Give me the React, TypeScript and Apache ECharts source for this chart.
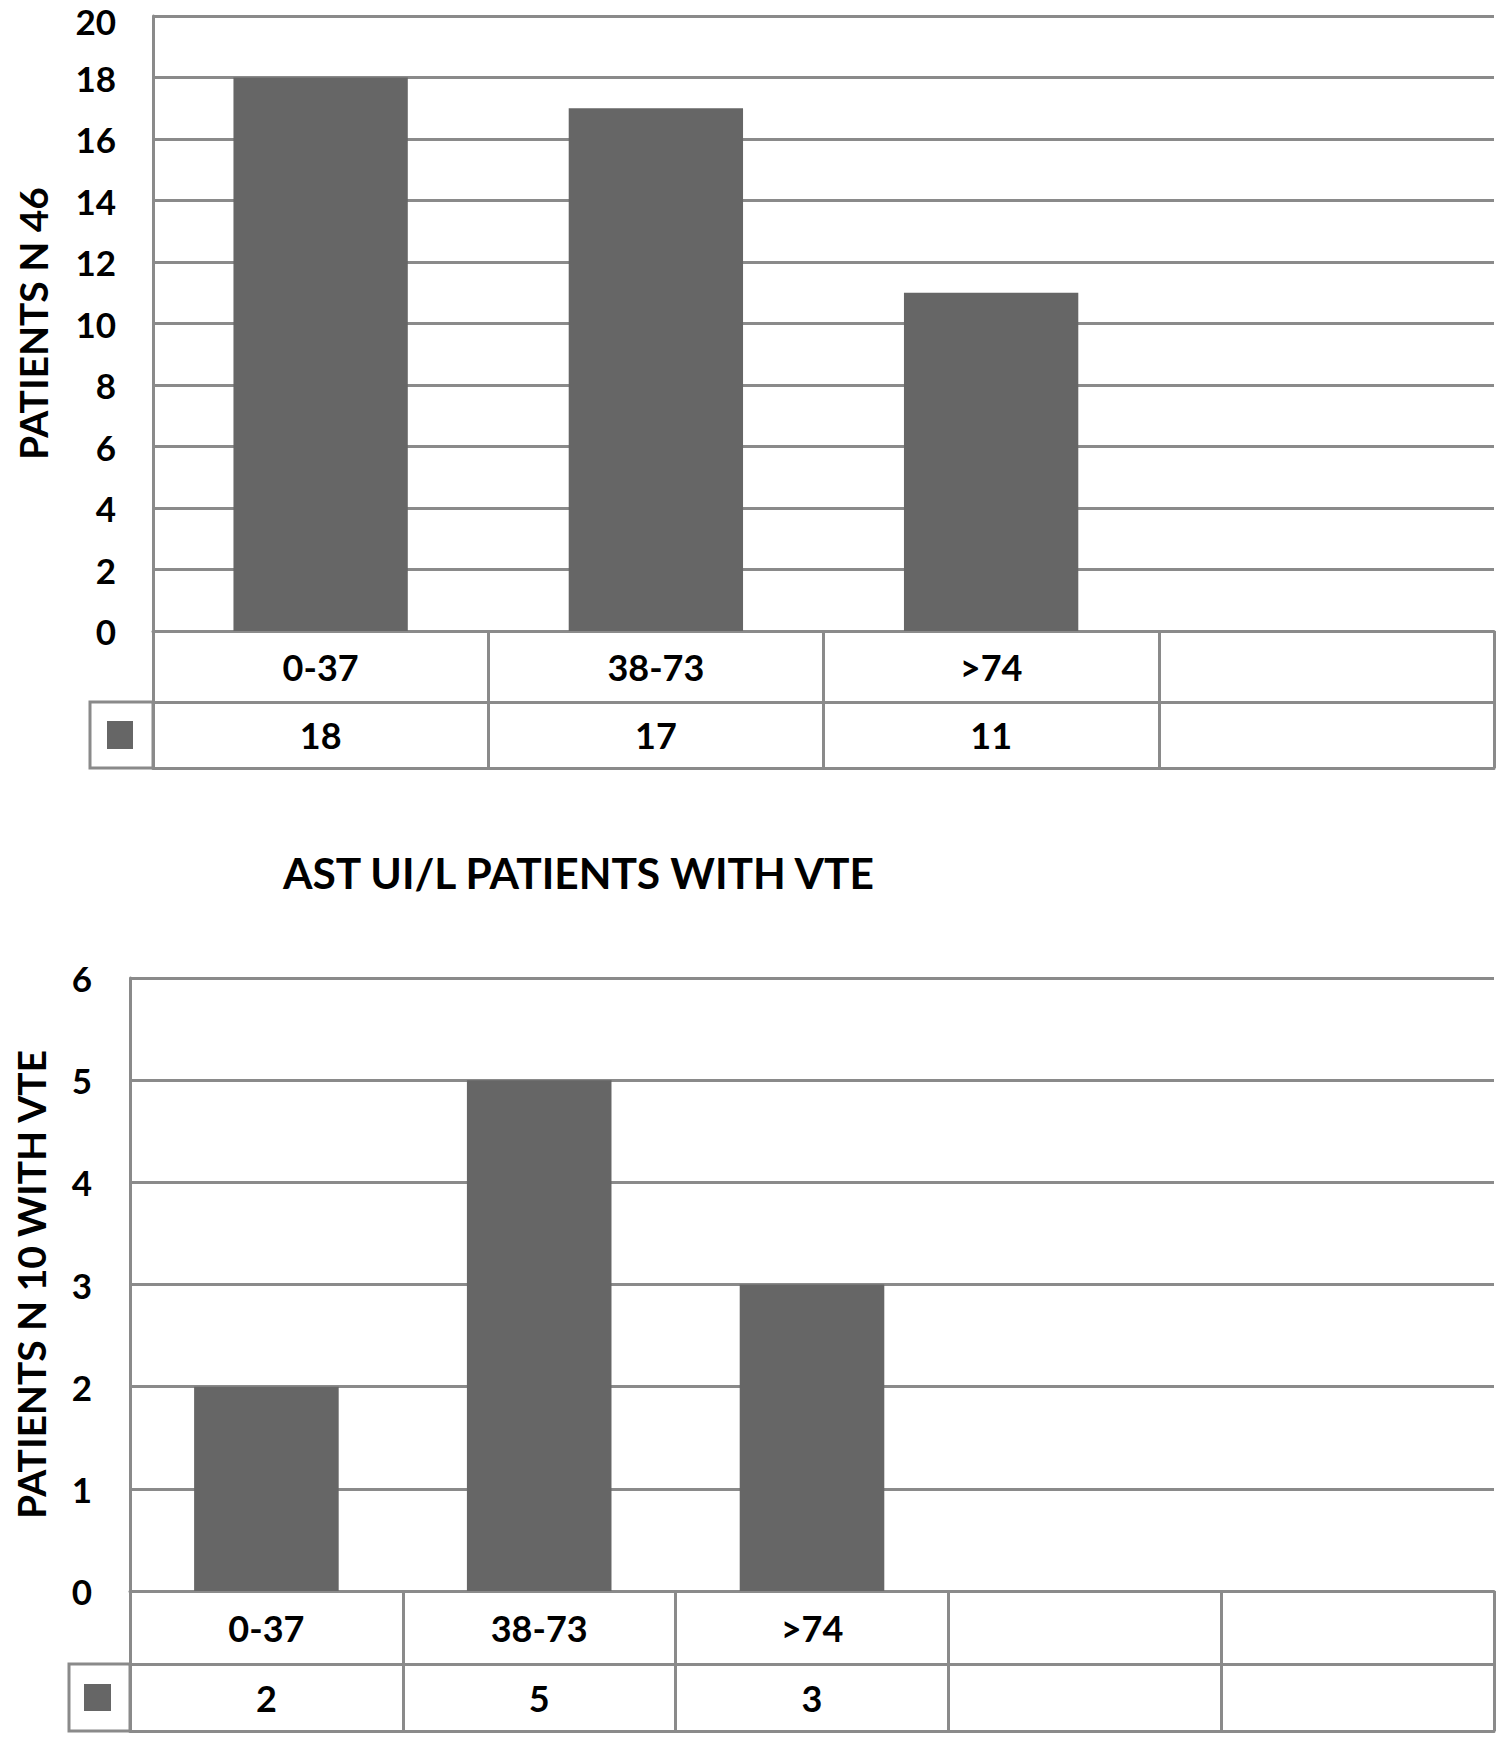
import React, { useEffect, useRef } from 'react';
import * as echarts from 'echarts';

// ---- data ----
const topCategories = ['0-37', '38-73', '>74', ''];
const topValues = [18, 17, 11];
const topSeriesName = 'PATIENTS N 46';
const topYMin = 0;
const topYMax = 20;
const topYInterval = 2;

const bottomTitle = 'AST UI/L PATIENTS WITH VTE';
const bottomCategories = ['0-37', '38-73', '>74', '', ''];
const bottomValues = [2, 5, 3];
const bottomSeriesName = 'PATIENTS N 10 WITH VTE';
const bottomYMin = 0;
const bottomYMax = 6;
const bottomYInterval = 1;

// ---- styles ----
const FONT = 'Lato';
const LINE = '#8a8a8a';
const BAR = '#666666';
const LW = 3;

const lineStyle = { color: LINE, width: LW };
const labelFont = { fontFamily: FONT, fontWeight: 'bold' as const, color: '#000' };

function tableAxes(gridIndex: number, cats: string[], vals: number[], row1: number, row2: number) {
  return [
    {
      gridIndex,
      type: 'category',
      position: 'bottom',
      data: cats,
      axisLine: { show: true, lineStyle },
      axisTick: { show: true, interval: 0, length: row1 + row2, lineStyle },
      axisLabel: { interval: 0, margin: (row1 - 36) / 2, fontSize: 36, lineHeight: 36, ...labelFont },
      splitLine: { show: false },
    },
    {
      gridIndex,
      type: 'category',
      position: 'bottom',
      offset: row1,
      data: cats,
      axisLine: { show: true, lineStyle },
      axisTick: { show: false },
      axisLabel: {
        interval: 0,
        margin: (row2 - 36) / 2,
        fontSize: 36,
        lineHeight: 36,
        ...labelFont,
        formatter: (_v: string, i: number) => (vals[i] === undefined ? '' : String(vals[i])),
      },
      splitLine: { show: false },
    },
    {
      gridIndex,
      type: 'category',
      position: 'bottom',
      offset: row1 + row2,
      data: cats,
      axisLine: { show: true, lineStyle },
      axisTick: { show: false },
      axisLabel: { show: false },
      splitLine: { show: false },
    },
  ];
}

function valueAxis(gridIndex: number, min: number, max: number, interval: number, name: string, margin: number, nameGap: number) {
  return {
    gridIndex,
    type: 'value',
    min,
    max,
    interval,
    name,
    nameLocation: 'middle',
    nameGap,
    nameTextStyle: { fontSize: 39, lineHeight: 40, ...labelFont },
    axisLine: { show: true, lineStyle },
    axisTick: { show: false },
    axisLabel: {
      margin,
      fontSize: 35,
      lineHeight: 26,
      ...labelFont,
      formatter: (v: number) => (v === max && gridIndex === 0 ? `{top|${v}}` : String(v)),
      rich: {
        top: { fontSize: 35, lineHeight: 26, padding: [10, 0, 0, 0], ...labelFont },
      },
    },
    splitLine: { show: true, lineStyle },
  };
}

export default function App() {
  const ref = useRef<HTMLDivElement>(null);
  useEffect(() => {
    if (!ref.current) return;
    const chart = echarts.init(ref.current, undefined, { renderer: 'svg' });
    const option: any = {
      animation: false,
      backgroundColor: '#ffffff',
      title: {
        text: bottomTitle,
        left: 283,
        top: 850,
        padding: 0,
        textStyle: { fontSize: 42.5, lineHeight: 44, ...labelFont },
      },
      legend: [
        {
          data: [topSeriesName],
          left: 107,
          top: 721,
          padding: 0,
          itemWidth: 26,
          itemHeight: 28,
          icon: 'rect',
          selectedMode: false,
          formatter: () => '',
        },
        {
          data: [bottomSeriesName],
          left: 84,
          top: 1684,
          padding: 0,
          itemWidth: 27,
          itemHeight: 27,
          icon: 'rect',
          selectedMode: false,
          formatter: () => '',
        },
      ],
      grid: [
        { left: 153, top: 16, width: 1341, height: 615, outerBoundsMode: 'none', containLabel: false },
        { left: 130, top: 978, width: 1364, height: 613, outerBoundsMode: 'none', containLabel: false },
      ],
      xAxis: [
        ...tableAxes(0, topCategories, topValues, 71, 66),
        ...tableAxes(1, bottomCategories, bottomValues, 73, 67),
      ],
      yAxis: [
        valueAxis(0, topYMin, topYMax, topYInterval, topSeriesName, 37, 100),
        valueAxis(1, bottomYMin, bottomYMax, bottomYInterval, bottomSeriesName, 38, 79),
      ],
      series: [
        {
          name: topSeriesName,
          type: 'bar',
          xAxisIndex: 0,
          yAxisIndex: 0,
          data: topValues,
          barWidth: '52%',
          itemStyle: { color: BAR },
        },
        {
          name: bottomSeriesName,
          type: 'bar',
          xAxisIndex: 3,
          yAxisIndex: 1,
          data: bottomValues,
          barWidth: '53%',
          itemStyle: { color: BAR },
        },
      ],
      graphic: [
        { type: 'rect', shape: { x: 90, y: 702, width: 63, height: 66 }, style: { fill: 'none', stroke: LINE, lineWidth: LW }, z: 10 },
        { type: 'rect', shape: { x: 69, y: 1664, width: 61, height: 67 }, style: { fill: 'none', stroke: LINE, lineWidth: LW }, z: 10 },
      ],
    };
    chart.setOption(option);
    return () => chart.dispose();
  }, []);
  return <div ref={ref} style={{ position: 'absolute', left: 0, top: 0, width: 1508, height: 1742 }} />;
}
